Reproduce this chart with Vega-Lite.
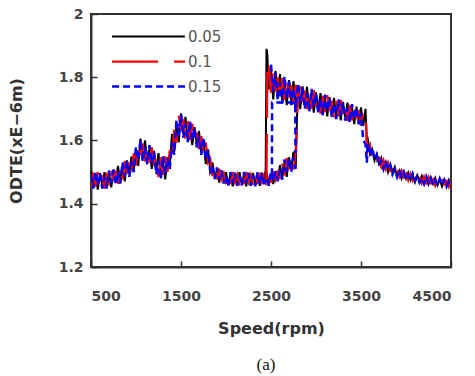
{
"$schema": "https://vega.github.io/schema/vega-lite/v6.json",
"width": 360, "height": 253,
"autosize": "none",
"padding": {"left": 91, "top": 14, "right": 24, "bottom": 109},
"background": "white",
"config": {
  "view": {"stroke": "#333", "strokeWidth": 2},
  "axis": {"domainColor": "#333", "domainWidth": 2, "tickColor": "#333", "tickWidth": 1.5, "tickSize": -6, "grid": false,
    "labelFont": "DejaVu Sans", "labelFontWeight": "bold", "labelFontSize": 14, "labelColor": "#444",
    "titleFont": "DejaVu Sans", "titleFontWeight": "bold", "titleFontSize": 16, "titleColor": "#333"}
},
"title": {"text": "(a)", "orient": "bottom", "font": "Liberation Serif", "fontSize": 17, "fontWeight": "normal", "color": "#111", "offset": 21, "dx": -5},
"data": {"values": [
{"g":1,"x":500,"a":1.505,"b":1.453,"c":1.489},
{"g":1,"x":525,"a":1.454,"b":1.498,"c":1.448},
{"g":1,"x":550,"a":1.493,"b":1.454,"c":1.501},
{"g":1,"x":575,"a":1.445,"b":1.500,"c":1.459},
{"g":1,"x":600,"a":1.497,"b":1.462,"c":1.495},
{"g":1,"x":625,"a":1.456,"b":1.489,"c":1.448},
{"g":1,"x":650,"a":1.500,"b":1.448,"c":1.484},
{"g":1,"x":675,"a":1.454,"b":1.498,"c":1.448},
{"g":1,"x":700,"a":1.497,"b":1.458,"c":1.505},
{"g":1,"x":725,"a":1.452,"b":1.509,"c":1.466},
{"g":1,"x":750,"a":1.509,"b":1.472,"c":1.506},
{"g":1,"x":775,"a":1.469,"b":1.504,"c":1.460},
{"g":1,"x":800,"a":1.520,"b":1.463,"c":1.502},
{"g":1,"x":825,"a":1.470,"b":1.519,"c":1.464},
{"g":1,"x":850,"a":1.521,"b":1.477,"c":1.530},
{"g":1,"x":875,"a":1.471,"b":1.535,"c":1.487},
{"g":1,"x":900,"a":1.537,"b":1.495,"c":1.534},
{"g":1,"x":925,"a":1.495,"b":1.532,"c":1.485},
{"g":1,"x":950,"a":1.550,"b":1.493,"c":1.532},
{"g":1,"x":975,"a":1.507,"b":1.559,"c":1.500},
{"g":1,"x":1000,"a":1.570,"b":1.521,"c":1.580},
{"g":1,"x":1025,"a":1.520,"b":1.595,"c":1.539},
{"g":1,"x":1050,"a":1.606,"b":1.554,"c":1.602},
{"g":1,"x":1075,"a":1.545,"b":1.590,"c":1.534},
{"g":1,"x":1100,"a":1.600,"b":1.534,"c":1.579},
{"g":1,"x":1125,"a":1.532,"b":1.585,"c":1.525},
{"g":1,"x":1150,"a":1.575,"b":1.530,"c":1.585},
{"g":1,"x":1175,"a":1.510,"b":1.578,"c":1.527},
{"g":1,"x":1200,"a":1.567,"b":1.521,"c":1.563},
{"g":1,"x":1225,"a":1.505,"b":1.550,"c":1.494},
{"g":1,"x":1250,"a":1.560,"b":1.484,"c":1.536},
{"g":1,"x":1275,"a":1.486,"b":1.547,"c":1.478},
{"g":1,"x":1300,"a":1.539,"b":1.486,"c":1.550},
{"g":1,"x":1325,"a":1.477,"b":1.550,"c":1.495},
{"g":1,"x":1350,"a":1.547,"b":1.501,"c":1.543},
{"g":1,"x":1375,"a":1.521,"b":1.569,"c":1.509},
{"g":1,"x":1400,"a":1.620,"b":1.535,"c":1.593},
{"g":1,"x":1425,"a":1.564,"b":1.634,"c":1.555},
{"g":1,"x":1450,"a":1.652,"b":1.593,"c":1.665},
{"g":1,"x":1475,"a":1.595,"b":1.678,"c":1.616},
{"g":1,"x":1500,"a":1.686,"b":1.634,"c":1.682},
{"g":1,"x":1525,"a":1.621,"b":1.667,"c":1.609},
{"g":1,"x":1550,"a":1.675,"b":1.604,"c":1.653},
{"g":1,"x":1575,"a":1.602,"b":1.661,"c":1.595},
{"g":1,"x":1600,"a":1.650,"b":1.601,"c":1.660},
{"g":1,"x":1625,"a":1.585,"b":1.653,"c":1.602},
{"g":1,"x":1650,"a":1.642,"b":1.600,"c":1.639},
{"g":1,"x":1675,"a":1.588,"b":1.625,"c":1.578},
{"g":1,"x":1700,"a":1.630,"b":1.573,"c":1.612},
{"g":1,"x":1725,"a":1.562,"b":1.614,"c":1.555},
{"g":1,"x":1750,"a":1.600,"b":1.551,"c":1.610},
{"g":1,"x":1775,"a":1.525,"b":1.593,"c":1.542},
{"g":1,"x":1800,"a":1.572,"b":1.530,"c":1.569},
{"g":1,"x":1825,"a":1.509,"b":1.542,"c":1.501},
{"g":1,"x":1850,"a":1.530,"b":1.487,"c":1.517},
{"g":1,"x":1875,"a":1.483,"b":1.519,"c":1.478},
{"g":1,"x":1900,"a":1.508,"b":1.477,"c":1.515},
{"g":1,"x":1925,"a":1.467,"b":1.511,"c":1.478},
{"g":1,"x":1950,"a":1.506,"b":1.478,"c":1.504},
{"g":1,"x":1975,"a":1.470,"b":1.496,"c":1.464},
{"g":1,"x":2000,"a":1.500,"b":1.462,"c":1.488},
{"g":1,"x":2025,"a":1.460,"b":1.496,"c":1.455},
{"g":1,"x":2050,"a":1.493,"b":1.462,"c":1.500},
{"g":1,"x":2075,"a":1.455,"b":1.500,"c":1.466},
{"g":1,"x":2100,"a":1.498,"b":1.469,"c":1.496},
{"g":1,"x":2125,"a":1.464,"b":1.491,"c":1.457},
{"g":1,"x":2150,"a":1.500,"b":1.457,"c":1.487},
{"g":1,"x":2175,"a":1.462,"b":1.494,"c":1.458},
{"g":1,"x":2200,"a":1.493,"b":1.462,"c":1.500},
{"g":1,"x":2225,"a":1.455,"b":1.500,"c":1.466},
{"g":1,"x":2250,"a":1.498,"b":1.469,"c":1.496},
{"g":1,"x":2275,"a":1.464,"b":1.491,"c":1.457},
{"g":1,"x":2300,"a":1.497,"b":1.459,"c":1.490},
{"g":1,"x":2325,"a":1.460,"b":1.496,"c":1.455},
{"g":1,"x":2350,"a":1.493,"b":1.462,"c":1.500},
{"g":1,"x":2375,"a":1.457,"b":1.498,"c":1.463},
{"g":1,"x":2400,"a":1.498,"b":1.469,"c":1.496},
{"g":1,"x":2425,"a":1.464,"b":1.491,"c":1.457},
{"g":1,"x":2450,"a":1.500,"b":1.457,"c":1.487},
{"g":1,"x":2475,"a":1.461,"b":1.497,"c":1.457},
{"g":1,"x":2500,"a":1.496,"b":1.466,"c":1.502},
{"g":1,"x":2525,"a":1.462,"b":1.503,"c":1.472},
{"g":1,"x":2550,"a":1.503,"b":1.477,"c":1.501},
{"g":1,"x":2575,"a":1.478,"b":1.505,"c":1.471},
{"g":1,"x":2600,"a":1.522,"b":1.475,"c":1.507},
{"g":1,"x":2625,"a":1.482,"b":1.526,"c":1.476},
{"g":1,"x":2650,"a":1.531,"b":1.489,"c":1.540},
{"g":1,"x":2675,"a":1.485,"b":1.545,"c":1.500},
{"g":1,"x":2700,"a":1.547,"b":1.508,"c":1.544},
{"g":1,"x":2725,"a":1.510,"b":1.546,"c":1.501},
{"g":1,"x":2750,"a":1.565,"b":1.508,"c":1.547},
{"g":1,"x":2775,"a":1.516,"b":1.564,"c":1.510},
{"g":1,"x":2795,"a":1.740,"b":1.710,"c":null},
{"g":2,"x":2440,"a":1.475,"b":null,"c":null},
{"g":2,"x":2450,"a":1.890,"b":1.475,"c":null},
{"g":2,"x":2460,"a":1.870,"b":1.850,"c":null},
{"g":2,"x":2475,"a":1.761,"b":1.845,"c":null},
{"g":2,"x":2500,"a":1.824,"b":1.751,"c":1.840},
{"g":2,"x":2525,"a":1.730,"b":1.830,"c":1.755},
{"g":2,"x":2550,"a":1.820,"b":1.755,"c":1.815},
{"g":2,"x":2575,"a":1.741,"b":1.799,"c":1.727},
{"g":2,"x":2600,"a":1.810,"b":1.725,"c":1.783},
{"g":2,"x":2625,"a":1.727,"b":1.797,"c":1.718},
{"g":2,"x":2650,"a":1.790,"b":1.728,"c":1.803},
{"g":2,"x":2675,"a":1.712,"b":1.799,"c":1.734},
{"g":2,"x":2700,"a":1.791,"b":1.736,"c":1.787},
{"g":2,"x":2725,"a":1.725,"b":1.774,"c":1.712},
{"g":2,"x":2750,"a":1.788,"b":1.709,"c":1.763},
{"g":2,"x":2775,"a":1.710,"b":1.776,"c":1.702},
{"g":2,"x":2800,"a":1.768,"b":1.712,"c":1.780},
{"g":2,"x":2825,"a":1.699,"b":1.778,"c":1.719},
{"g":2,"x":2850,"a":1.771,"b":1.721,"c":1.767},
{"g":2,"x":2875,"a":1.711,"b":1.758,"c":1.700},
{"g":2,"x":2900,"a":1.770,"b":1.699,"c":1.748},
{"g":2,"x":2925,"a":1.699,"b":1.759,"c":1.692},
{"g":2,"x":2950,"a":1.752,"b":1.701,"c":1.763},
{"g":2,"x":2975,"a":1.688,"b":1.759,"c":1.706},
{"g":2,"x":3000,"a":1.752,"b":1.706,"c":1.748},
{"g":2,"x":3025,"a":1.697,"b":1.739,"c":1.687},
{"g":2,"x":3050,"a":1.750,"b":1.685,"c":1.730},
{"g":2,"x":3075,"a":1.687,"b":1.741,"c":1.680},
{"g":2,"x":3100,"a":1.735,"b":1.688,"c":1.745},
{"g":2,"x":3125,"a":1.676,"b":1.743,"c":1.693},
{"g":2,"x":3150,"a":1.737,"b":1.694,"c":1.733},
{"g":2,"x":3175,"a":1.685,"b":1.725,"c":1.675},
{"g":2,"x":3200,"a":1.735,"b":1.673,"c":1.716},
{"g":2,"x":3225,"a":1.675,"b":1.727,"c":1.668},
{"g":2,"x":3250,"a":1.720,"b":1.676,"c":1.730},
{"g":2,"x":3275,"a":1.664,"b":1.728,"c":1.680},
{"g":2,"x":3300,"a":1.722,"b":1.681,"c":1.719},
{"g":2,"x":3325,"a":1.673,"b":1.710,"c":1.663},
{"g":2,"x":3350,"a":1.720,"b":1.662,"c":1.702},
{"g":2,"x":3375,"a":1.663,"b":1.712,"c":1.657},
{"g":2,"x":3400,"a":1.706,"b":1.664,"c":1.715},
{"g":2,"x":3425,"a":1.652,"b":1.713,"c":1.667},
{"g":2,"x":3450,"a":1.707,"b":1.668,"c":1.704},
{"g":2,"x":3475,"a":1.660,"b":1.696,"c":1.651},
{"g":2,"x":3500,"a":1.705,"b":1.648,"c":1.687},
{"g":2,"x":3525,"a":1.646,"b":1.694,"c":1.600},
{"g":2,"x":3550,"a":1.700,"b":1.690,"c":1.590},
{"g":2,"x":3565,"a":1.600,"b":1.585,"c":1.530},
{"g":2,"x":3575,"a":1.605,"b":1.567,"c":1.593},
{"g":2,"x":3600,"a":1.557,"b":1.586,"c":1.553},
{"g":2,"x":3625,"a":1.572,"b":1.550,"c":1.577},
{"g":2,"x":3650,"a":1.537,"b":1.567,"c":1.545},
{"g":2,"x":3675,"a":1.557,"b":1.537,"c":1.555},
{"g":2,"x":3700,"a":1.526,"b":1.544,"c":1.522},
{"g":2,"x":3725,"a":1.545,"b":1.517,"c":1.536},
{"g":2,"x":3750,"a":1.513,"b":1.537,"c":1.510},
{"g":2,"x":3775,"a":1.531,"b":1.510,"c":1.535},
{"g":2,"x":3800,"a":1.500,"b":1.530,"c":1.508},
{"g":2,"x":3825,"a":1.524,"b":1.505,"c":1.522},
{"g":2,"x":3850,"a":1.498,"b":1.514,"c":1.493},
{"g":2,"x":3875,"a":1.516,"b":1.489,"c":1.508},
{"g":2,"x":3900,"a":1.488,"b":1.509,"c":1.485},
{"g":2,"x":3925,"a":1.504,"b":1.486,"c":1.508},
{"g":2,"x":3950,"a":1.480,"b":1.505,"c":1.486},
{"g":2,"x":3975,"a":1.501,"b":1.485,"c":1.500},
{"g":2,"x":4000,"a":1.480,"b":1.495,"c":1.476},
{"g":2,"x":4025,"a":1.498,"b":1.474,"c":1.491},
{"g":2,"x":4050,"a":1.475,"b":1.495,"c":1.472},
{"g":2,"x":4075,"a":1.491,"b":1.474,"c":1.495},
{"g":2,"x":4100,"a":1.468,"b":1.493,"c":1.474},
{"g":2,"x":4125,"a":1.490,"b":1.474,"c":1.489},
{"g":2,"x":4150,"a":1.471,"b":1.485,"c":1.467},
{"g":2,"x":4175,"a":1.488,"b":1.465,"c":1.481},
{"g":2,"x":4200,"a":1.465,"b":1.485,"c":1.463},
{"g":2,"x":4225,"a":1.482,"b":1.466,"c":1.486},
{"g":2,"x":4250,"a":1.461,"b":1.485,"c":1.467},
{"g":2,"x":4275,"a":1.482,"b":1.466,"c":1.481},
{"g":2,"x":4300,"a":1.463,"b":1.477,"c":1.459},
{"g":2,"x":4325,"a":1.481,"b":1.458,"c":1.474},
{"g":2,"x":4350,"a":1.459,"b":1.478,"c":1.457},
{"g":2,"x":4375,"a":1.476,"b":1.460,"c":1.479},
{"g":2,"x":4400,"a":1.455,"b":1.478,"c":1.461},
{"g":2,"x":4425,"a":1.476,"b":1.461,"c":1.475},
{"g":2,"x":4450,"a":1.458,"b":1.471,"c":1.454},
{"g":2,"x":4475,"a":1.475,"b":1.454,"c":1.468},
{"g":2,"x":4500,"a":1.455,"b":1.472,"c":1.452},
{"g":3,"x":2510,"a":null,"b":null,"c":1.490},
{"g":3,"x":2512,"a":null,"b":null,"c":1.720},
{"g":3,"x":2770,"a":null,"b":null,"c":1.720},
{"g":3,"x":2772,"a":null,"b":null,"c":1.560}
]},
"transform": [{"fold": ["a", "b", "c"], "as": ["s", "y"]}],
"mark": {"type": "line", "strokeCap": "butt", "clip": true},
"encoding": {
  "x": {"field": "x", "type": "quantitative",
    "scale": {"domain": [500, 4500], "nice": false, "zero": false},
    "axis": {"values": [500, 1500, 2500, 3500, 4500], "format": "d", "title": "Speed(rpm)", "labelPadding": 28, "titleY": 66, "titleBaseline": "alphabetic"}},
  "y": {"field": "y", "type": "quantitative",
    "scale": {"domain": [1.2, 2], "nice": false, "zero": false},
    "axis": {"values": [1.2, 1.4, 1.6, 1.8, 2], "format": "~g", "title": "ODTE(xE−6m)", "labelPadding": 14, "titleX": -75, "titleBaseline": "middle"}},
  "color": {"field": "s", "type": "nominal",
    "scale": {"domain": ["a", "b", "c"], "range": ["#000000", "#ff0000", "#0000ff"]},
    "legend": {"orient": "none", "legendX": 44, "legendY": 9, "title": null, "symbolType": "M-3,0H3", "symbolSize": 590,
      "labelExpr": "datum.value == 'a' ? '0.05' : datum.value == 'b' ? '0.1' : '0.15'",
      "labelFont": "DejaVu Sans", "labelFontSize": 15, "labelColor": "#555", "labelOffset": 26, "rowPadding": 3}},
  "strokeDash": {"field": "s", "type": "nominal",
    "scale": {"domain": ["a", "b", "c"], "range": [[1, 0], [46, 16], [7, 4]]}},
  "strokeWidth": {"field": "s", "type": "ordinal",
    "scale": {"domain": ["a", "b", "c"], "range": [2, 2.5, 4]}},
  "detail": {"field": "g", "type": "nominal"}
}
}
